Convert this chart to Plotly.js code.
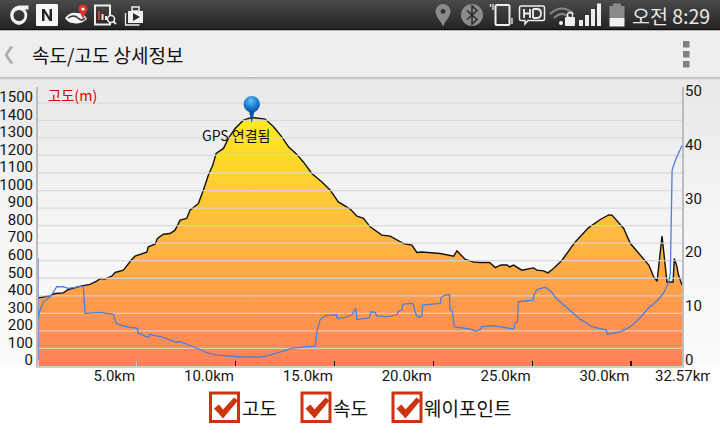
<!DOCTYPE html>
<html><head><meta charset="utf-8">
<script src="https://cdn.plot.ly/plotly-3.0.1.min.js"></script>
<style>
html,body{margin:0;padding:0;background:#fff;width:720px;height:435px;overflow:hidden}
#chrome,#plot{position:absolute;left:0;top:0;width:720px;height:435px}
</style></head><body>
<svg id="chrome" width="720" height="435" viewBox="0 0 720 435" xmlns="http://www.w3.org/2000/svg">
<defs>
<linearGradient id="sb" x1="0" y1="0" x2="0" y2="1"><stop offset="0" stop-color="#4a4a4a"/><stop offset="1" stop-color="#232323"/></linearGradient>
<linearGradient id="bg" x1="0" y1="0" x2="0" y2="1"><stop offset="0" stop-color="#e9e9e9"/><stop offset="0.55" stop-color="#f6f6f6"/><stop offset="1" stop-color="#fbfbfb"/></linearGradient>
<linearGradient id="sh" x1="0" y1="0" x2="0" y2="1"><stop offset="0" stop-color="#b4b4b4"/><stop offset="1" stop-color="#e8e8e8"/></linearGradient>
<g id="cb"><rect x="1.5" y="1.5" width="28" height="28.5" fill="#fff" stroke="#cc3311" stroke-width="3"/><path d="M5 17 L10 13 L14 18 L25 6 L29 9 L14 27 Z" fill="#cc3311"/></g>
</defs>
<rect x="0" y="0" width="720" height="29" fill="url(#sb)"/>
<rect x="0" y="29" width="720" height="1.5" fill="#0c0c0c"/>
<rect x="0" y="30.5" width="720" height="46.5" fill="#eeeeee"/>
<rect x="0" y="77" width="720" height="3" fill="url(#sh)"/>
<rect x="0" y="80" width="720" height="286" fill="url(#bg)"/>
<!-- left status icons -->
<path d="M19 5.5 h9.5 v4 h-3.5 a9.5 9.5 0 0 1 -6 15.5 a9.8 9.8 0 0 1 0 -19.5 z M19 10 a5.5 5.5 0 0 0 0 11 a5.5 5.5 0 0 0 0 -11 z" fill="#f0f0f0" fill-rule="evenodd"/>
<rect x="36" y="4" width="22" height="22" rx="1" fill="#f7f7f7"/>
<path d="M42 21 V9 h2.5 l5 8 V9 h2.5 v12 h-2.5 l-5 -8 v8 z" fill="#222"/>
<path d="M65 18 Q70 12 76 13 Q84 12 87 19 Q80 25 73 23 Q68 23 65 18 z" fill="#f2f2f2"/>
<path d="M68 18 Q74 14 78 18 T85 18" fill="none" stroke="#333" stroke-width="1.5"/>
<circle cx="83" cy="9" r="4.5" fill="#d9352a"/><path d="M79.5 11 L83 19 L86.5 11 z" fill="#d9352a"/><circle cx="83" cy="9" r="1.6" fill="#fff"/>
<rect x="95" y="5.5" width="15" height="19" fill="none" stroke="#eee" stroke-width="2"/>
<rect x="98" y="11" width="2" height="9" fill="#d9352a"/><rect x="101.5" y="14" width="2" height="6" fill="#eee"/><rect x="105" y="16" width="2" height="4" fill="#eee"/>
<circle cx="111" cy="19" r="3.5" fill="#2c2c2c" stroke="#eee" stroke-width="1.6"/><path d="M113.5 21.5 L116 24" stroke="#eee" stroke-width="1.8"/>
<path d="M128 11 h15 v12 h-15 z" fill="#f0f0f0"/><rect x="132" y="7" width="7" height="4" fill="none" stroke="#eee" stroke-width="1.5"/>
<path d="M133 13 L140 17 L133 21 z" fill="#2c2c2c"/><path d="M125.5 13 v12 h14" fill="none" stroke="#eee" stroke-width="1.3"/>
<!-- right status icons -->
<path d="M443 4 a7.5 7.5 0 0 1 7.5 7.5 c0 5 -5 9 -7.5 15 c-2.5 -6 -7.5 -10 -7.5 -15 a7.5 7.5 0 0 1 7.5 -7.5 z" fill="#8a8a8a"/><circle cx="443" cy="11.5" r="2.4" fill="#333"/>
<circle cx="472" cy="15" r="11" fill="#8a8a8a"/><path d="M467 10.5 L477 19.5 L472 24 V6 L477 10.5 L467 19.5" fill="none" stroke="#2c2c2c" stroke-width="1.5"/>
<rect x="495.5" y="5" width="14" height="20" rx="1.5" fill="none" stroke="#eee" stroke-width="2"/>
<path d="M493 4 v6 M490.5 4 v3" stroke="#ddd" stroke-width="1.4"/><path d="M512 18 v6" stroke="#ccc" stroke-width="1.6"/>
<path d="M521 6 h22 a1.5 1.5 0 0 1 1.5 1.5 v11.5 a1.5 1.5 0 0 1 -1.5 1.5 h-15 l-3 3.5 v-3.5 h-4 a1.5 1.5 0 0 1 -1.5 -1.5 v-11.5 a1.5 1.5 0 0 1 1.5 -1.5 z" fill="none" stroke="#eee" stroke-width="1.5"/>
<path d="M524 9 v9 M530 9 v9 M524 13.5 h6 M533 9 v9 M533 9 h4 q4 0 4 4.5 t-4 4.5 h-4" fill="none" stroke="#eee" stroke-width="1.8"/>
<path d="M550 14 Q562 3 574 14" fill="none" stroke="#888" stroke-width="2"/><path d="M554 18 Q562 10 570 18" fill="none" stroke="#888" stroke-width="2"/>
<circle cx="561" cy="23" r="2" fill="#eee"/><rect x="565" y="17" width="10" height="9" rx="1" fill="#eee"/><path d="M567.5 17 v-2 a2.5 2.5 0 0 1 5 0 v2" fill="none" stroke="#eee" stroke-width="1.3"/>
<rect x="579" y="20" width="4" height="6" fill="#eee"/><rect x="585" y="15" width="4" height="11" fill="#eee"/><rect x="591" y="9" width="4" height="17" fill="#eee"/><rect x="597" y="3.5" width="4" height="22.5" fill="#eee"/>
<rect x="613" y="3.5" width="8" height="3" fill="#8a8a8a"/><rect x="609.5" y="6" width="15" height="12" fill="#8a8a8a"/><rect x="609.5" y="18" width="15" height="8.5" fill="#f0f0f0"/>
<!-- app bar -->
<path d="M13 47 L7 55 L13 63 h-3 L5 55 L10 47 z" fill="#b0b0b0" stroke="#b0b0b0"/>
<rect x="683" y="41" width="6.5" height="6.5" fill="#808080"/><rect x="683" y="51" width="6.5" height="6.5" fill="#808080"/><rect x="683" y="61" width="6.5" height="6.5" fill="#808080"/>
<!-- legend boxes -->
<use href="#cb" x="209" y="391.5"/><use href="#cb" x="300.5" y="391.5"/><use href="#cb" x="391.5" y="391.5"/>
</svg>
<div id="plot"></div>
<script>
// Elevation profile (km, metres)
var elevKm = [0.02,0.35,0.61,0.86,1.28,1.53,1.87,2.21,2.63,2.97,3.14,3.39,3.73,3.90,4.32,4.57,4.74,4.91,5.50,5.58,5.92,6.04,6.34,6.68,6.93,7.19,7.52,7.69,8.11,8.36,8.62,8.84,9.01,9.38,9.63,9.97,10.39,10.81,11.49,11.91,12.33,12.67,13.09,13.42,13.85,14.36,14.78,15.19,15.79,16.13,16.46,16.80,17.05,17.39,17.81,18.49,18.91,19.16,19.41,20.34,21.02,21.19,21.61,22.03,22.37,22.84,23.12,23.41,23.72,23.85,24.05,24.47,25.06,25.23,25.57,25.79,26.07,26.50,27.17,27.85,28.44,28.86,29.03,29.62,29.96,30.63,30.89,31.14,31.31,31.56,31.81,32.12,32.18,32.32,32.37,32.57];
var elevM = [388,394,400,413,417,436,447,457,465,483,499,495,512,533,546,584,607,626,649,679,694,727,751,755,774,831,841,888,926,1002,1088,1145,1211,1240,1297,1354,1401,1416,1407,1363,1306,1249,1206,1163,1097,1049,1002,935,894,854,841,793,774,746,740,698,689,647,650,641,626,656,607,593,590,590,561,576,576,565,575,546,559,546,542,531,556,603,707,789,835,861,860,784,698,607,575,508,483,740,479,479,613,565,527,461];
// Speed profile (km, km/h)
var speedKm = [0,0,0,0.05,0.27,0.61,0.95,1.28,1.53,2.29,2.38,3.14,3.81,3.95,4.32,5.02,5.08,5.58,5.63,6.34,6.93,7.19,7.86,8.54,9.04,10.22,10.81,11.23,11.74,12.25,12.92,14.02,14.10,14.27,14.57,15.11,15.14,15.53,15.87,16.07,16.13,16.76,16.84,17.05,17.14,17.64,18.15,18.23,18.40,18.45,18.96,19.13,19.25,19.41,19.45,20.34,20.39,20.59,20.81,20.84,20.96,21.05,21.86,22.11,22.37,22.45,23.04,24.05,24.14,24.25,24.30,24.73,25.03,25.10,25.23,25.65,25.99,26.16,26.92,27.43,28.02,28.74,28.78,29.45,29.96,30.46,30.89,31.31,31.64,31.90,31.98,32.07,32.24,32.57];
var speedV = [0,18.9,7.5,8.7,10.8,11.7,13.6,13.6,13.3,13.7,8.66,8.85,8.5,6.8,6.3,5.9,4.95,4.2,4.77,4.2,3.4,3.4,2.47,1.36,0.93,0.62,0.56,0.56,0.93,1.55,2.28,2.6,5.25,7.55,8.3,8.4,7.7,7.9,8.35,9.6,7.55,7.8,8.96,8.85,8.2,8.0,8.4,9.1,9.27,10.4,10.5,8.35,7.9,8.16,10.2,10.5,11.6,12.06,12.15,9.4,8.96,6.2,5.75,5.38,5.7,6.2,6.4,5.75,7.0,7.1,10.8,11.0,11.1,12.2,13.1,13.5,12.6,11.6,9.1,7.55,6.2,5.57,4.8,5.25,6.2,7.9,9.7,11.0,12.4,14.5,16.1,35.25,37.1,39.8];
var altTicks = [0,100,200,300,400,500,600,700,800,900,1000,1100,1200,1300,1400,1500];
var speedTicks = [0,10,20,30,40,50];
var kmTicks = [5,10,15,20,25,30];
var kmLabels = ['5.0km','10.0km','15.0km','20.0km','25.0km','30.0km'];
var totalKm = 32.57, totalLabel = '32.57km';
var waypointKm = 10.81, waypointAlt = 1378, waypointLabel = 'GPS 연결됨';
var legendLabels = ['고도','속도','웨이포인트'];

var KR = '"Noto Sans CJK KR","Noto Sans",sans-serif';
var LAT = 'Roboto,"Liberation Sans",sans-serif';
var M = {l:38,r:38,t:87,b:69};
function px(x){return (x-M.l)/(720-M.l-M.r);}
function py(y){return (435-M.b-y)/(435-M.t-M.b);}

var gridX=[],gridY=[];
altTicks.slice(1).forEach(function(v){gridX.push(0,totalKm,null);gridY.push(v,v,null);});

var traces = [
 {x:elevKm,y:elevM,type:'scatter',mode:'lines',fill:'tozeroy',
  fillgradient:{type:'vertical',start:0,stop:1420,colorscale:[[0,'#ff8059'],[0.5,'#ffb640'],[1,'#ffea1e']]},
  line:{color:'#111',width:1.4,shape:'linear'},hoverinfo:'skip',showlegend:false},
 {x:gridX,y:gridY,type:'scatter',mode:'lines',line:{color:'rgba(214,214,214,0.85)',width:1.3},hoverinfo:'skip',showlegend:false},
 {x:speedKm,y:speedV,yaxis:'y2',type:'scatter',mode:'lines',line:{color:'#4a7fdc',width:1.3},cliponaxis:false,hoverinfo:'skip',showlegend:false}
];
var pin = 'data:image/svg+xml;utf8,'+encodeURIComponent('<svg xmlns="http://www.w3.org/2000/svg" width="18" height="29" viewBox="0 0 18 29"><defs><radialGradient id="g" cx="0.45" cy="0.3" r="0.7"><stop offset="0" stop-color="#6cc0f5"/><stop offset="0.55" stop-color="#1f7fd6"/><stop offset="1" stop-color="#0b4fa0"/></radialGradient></defs><path d="M6 15 L9 28 L12 15 z" fill="#0d5aa8"/><circle cx="9" cy="9" r="8.2" fill="url(#g)"/></svg>');
var layout = {
 width:720,height:435,margin:M,paper_bgcolor:'rgba(0,0,0,0)',plot_bgcolor:'rgba(0,0,0,0)',showlegend:false,
 xaxis:{range:[0,totalKm],tickmode:'array',tickvals:kmTicks,ticktext:kmLabels,ticks:'inside',ticklen:5,tickwidth:1.5,tickcolor:'#111',
  showgrid:false,zeroline:false,showline:true,linecolor:'#cfcfcf',linewidth:2,ticklabelposition:'outside left',ticklabelstandoff:-5,
  tickfont:{family:LAT,size:15,color:'#151515'},layer:'above traces'},
 yaxis:{range:[0,1590],tickmode:'array',tickvals:altTicks,ticks:'',showgrid:false,zeroline:false,showline:true,linecolor:'#bdbdbd',linewidth:2,
  tickfont:{family:LAT,size:15,color:'#151515'},ticklabelshift:-6,ticklabelstandoff:0},
 yaxis2:{overlaying:'y',side:'right',range:[-1.1,50.65],tickmode:'array',tickvals:speedTicks,ticks:'',showgrid:false,zeroline:false,showline:true,linecolor:'#bdbdbd',linewidth:2,
  tickfont:{family:LAT,size:15,color:'#151515'},ticklabelstandoff:-2},
 shapes:[{type:'line',xref:'x',yref:'paper',x0:kmTicks[0],x1:kmTicks[0],y0:0,y1:0.018,line:{color:'#e2e2e2',width:1.5}}],
 images:[{source:pin,xref:'x',yref:'y',x:waypointKm,y:waypointAlt,xanchor:'center',yanchor:'bottom',sizex:0.91,sizey:165,sizing:'stretch',layer:'above'}],
 annotations:[
  {xref:'paper',yref:'paper',x:px(30),y:py(54),xanchor:'left',yanchor:'middle',text:'속도/고도 상세정보',showarrow:false,font:{family:KR,size:19,color:'#111'}},
  {xref:'paper',yref:'paper',x:px(712),y:py(15),xanchor:'right',yanchor:'middle',text:'오전 8:29',showarrow:false,font:{family:KR,size:19.5,color:'#e8e8e8'}},
  {xref:'paper',yref:'paper',x:px(46),y:py(94),xanchor:'left',yanchor:'middle',text:'고도(m)',showarrow:false,font:{family:KR,size:14.3,color:'#dd0000'}},
  {xref:'x',yref:'y',x:waypointKm,y:1315,xshift:-15.5,xanchor:'center',yanchor:'middle',text:waypointLabel,showarrow:false,font:{family:KR,size:14,color:'#111'}},
  {xref:'x',yref:'paper',x:totalKm,y:py(376),xshift:-28.5,xanchor:'left',yanchor:'middle',width:55,align:'left',borderpad:0,text:totalLabel,showarrow:false,font:{family:LAT,size:15,color:'#151515'}},
  {xref:'paper',yref:'paper',x:px(240),y:py(407),xanchor:'left',yanchor:'middle',text:legendLabels[0],showarrow:false,font:{family:KR,size:19,color:'#111'}},
  {xref:'paper',yref:'paper',x:px(331),y:py(407),xanchor:'left',yanchor:'middle',text:legendLabels[1],showarrow:false,font:{family:KR,size:19,color:'#111'}},
  {xref:'paper',yref:'paper',x:px(422),y:py(407),xanchor:'left',yanchor:'middle',text:legendLabels[2],showarrow:false,font:{family:KR,size:19,color:'#111'}}
 ]
};
Plotly.newPlot('plot',traces,layout,{displayModeBar:false,staticPlot:true});
</script>
</body></html>
